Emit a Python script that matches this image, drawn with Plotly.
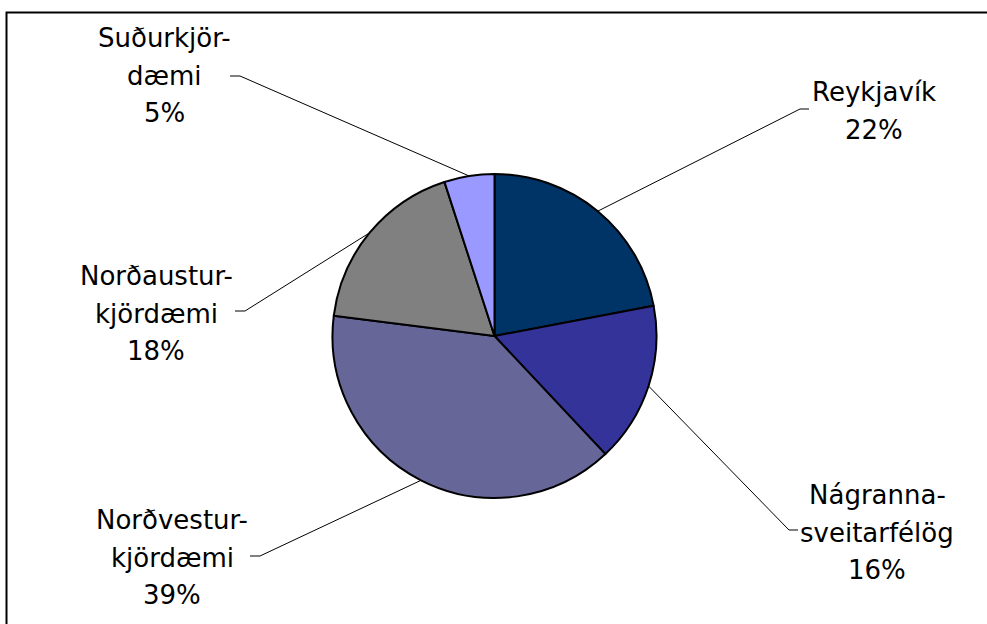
import math
import plotly.graph_objects as go

# ---- data ----
categories = ["Reykjavík", "Nágrannasveitarfélög", "Norðvesturkjördæmi", "Norðausturkjördæmi", "Suðurkjördæmi"]
label_lines = [
    ["Reykjavík"],
    ["Nágranna-", "sveitarfélög"],
    ["Norðvestur-", "kjördæmi"],
    ["Norðaustur-", "kjördæmi"],
    ["Suðurkjör-", "dæmi"],
]
values = [22, 16, 39, 18, 5]
colors = ["#003366", "#333399", "#666699", "#808080", "#9999FF"]

# ---- layout (pixels) ----
W, H = 987, 624
CX, CY, R = 494.5, 336.0, 162.0
# label block: (center x, first line y, elbow x, elbow y, end x)
label_layout = [
    (874, 92, 800, 109, 809),
    (877, 495, 789, 530, 798),
    (172, 520, 260, 556, 250),
    (156, 276, 245, 311, 235),
    (164, 38, 240, 76, 230),
]
LINE_GAP = 37.5
FONT = dict(family="Tahoma, DejaVu Sans, Verdana, sans-serif", size=26, color="black")


def px(x):
    return x / W


def py(y):
    return 1 - y / H


fig = go.Figure()
fig.add_trace(go.Pie(
    labels=categories,
    values=values,
    sort=False,
    direction="clockwise",
    rotation=0,
    marker=dict(colors=colors, line=dict(color="black", width=2)),
    textinfo="none",
    hoverinfo="label+percent",
    showlegend=False,
    domain=dict(x=[px(CX - R), px(CX + R)], y=[py(CY + R), py(CY - R)]),
))

total = sum(values)
cum = 0
annotations = []
shapes = []
for i, v in enumerate(values):
    mid = (cum + v / 2) / total * 2 * math.pi
    cum += v
    sx = CX + R * math.sin(mid)
    sy = CY - R * math.cos(mid)
    lx, ly, ex, ey, endx = label_layout[i]
    shapes.append(dict(type="path", xref="paper", yref="paper",
                       path=f"M {px(sx)} {py(sy)} L {px(ex)} {py(ey)} L {px(endx)} {py(ey)}",
                       line=dict(color="black", width=1)))
    lines = label_lines[i] + [f"{round(v / total * 100)}%"]
    for j, t in enumerate(lines):
        annotations.append(dict(x=px(lx), y=py(ly + j * LINE_GAP), xref="paper", yref="paper",
                                text=t, showarrow=False, xanchor="center", yanchor="middle",
                                font=FONT))

# chart frame
shapes.append(dict(type="rect", xref="paper", yref="paper",
                   x0=px(6.5), y0=py(640), x1=px(1000), y1=py(12.5),
                   line=dict(color="black", width=2)))

fig.update_layout(
    width=W, height=H,
    margin=dict(l=0, r=0, t=0, b=0),
    paper_bgcolor="white", plot_bgcolor="white",
    annotations=annotations, shapes=shapes,
)

fig.write_html("out.html")
